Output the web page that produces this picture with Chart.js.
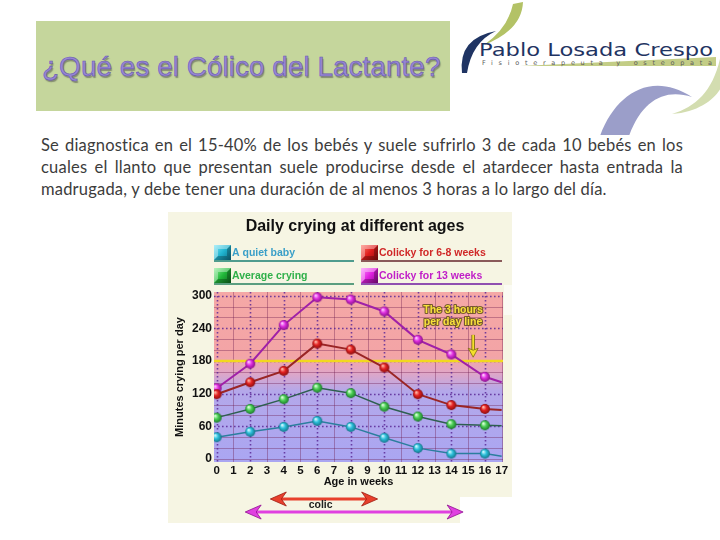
<!DOCTYPE html>
<html><head><meta charset="utf-8">
<script src="https://cdn.jsdelivr.net/npm/chart.js@4.4.1/dist/chart.umd.min.js"></script>
<style>
html,body{margin:0;padding:0;background:#fff;width:720px;height:540px;overflow:hidden;font-family:"Liberation Sans",Arial,sans-serif;}
#titlebox{position:absolute;left:36px;top:21px;width:414px;height:90px;background:#c5d69c;}
#title{position:absolute;left:42px;top:51px;font-size:28px;line-height:32px;color:#9787d4;-webkit-text-stroke:0.6px #6a58b0;text-shadow:1px 1.5px 1px rgba(70,70,70,0.5);white-space:nowrap;}
#para{position:absolute;left:41px;top:134px;width:642px;font-family:Lato,"Open Sans",sans-serif;font-size:16.5px;letter-spacing:0.2px;line-height:22px;color:#3c3c3c;}
.j{text-align:justify;text-align-last:justify;}
#chartwrap{position:absolute;left:168px;top:212px;width:344px;height:311px;}
#logo{position:absolute;left:450px;top:0;}
</style></head>
<body>
<div id="titlebox"></div>
<div id="title">¿Qué es el Cólico del Lactante?</div>
<svg id="logo" width="270" height="135" viewBox="0 0 270 135">
  <path d="M150,136 C165,95 200,70 242,97 C215,88 192,100 179,136 Z" fill="#9b9ec9"/>
  <path d="M272,48 C266,88 248,106 222,114 C250,112 266,98 272,86 Z" fill="#d3ddb0"/>
  <path d="M73,2 Q72,30 34,45 Q58,28 63,4 Z" fill="#b3c266"/>
  <path d="M12,73 Q8,38 46,31 Q22,42 17,73 Z" fill="#1f3463"/>
  <path d="M70,66 L266,57 L266,66 Z" fill="#c3cd86"/>
  <text x="29" y="56" font-family="DejaVu Sans" font-size="17" fill="#1f3463" textLength="234" lengthAdjust="spacingAndGlyphs">Pablo Losada Crespo</text>
  <text x="32" y="65" font-family="DejaVu Sans" font-size="6.5" fill="#5a5a5a" textLength="230" lengthAdjust="spacing">Fisioterapeuta y osteopata</text>
</svg>
<div id="para">
<div class="j">Se diagnostica en el 15-40% de los bebés y suele sufrirlo 3 de cada 10 bebés en los</div>
<div class="j">cuales el llanto que presentan suele producirse desde el atardecer hasta entrada la</div>
<div>madrugada, y debe tener una duración de al menos 3 horas a lo largo del día.</div>
</div>
<div id="chartwrap"><canvas id="c"></canvas></div>
<script>
// ---- data ----
const weeks = [0, 2, 4, 6, 8, 10, 12, 14, 16, 17];
const quietBaby = [40, 50, 59, 70, 59, 39, 20, 10, 10, 5];
const averageCrying = [76, 92, 110, 131, 121, 96, 78, 64, 62, 61];
const colicky6to8 = [119, 141, 162, 212, 201, 168, 119, 99, 92, 90];
const colicky13 = [130, 175, 246, 297, 293, 271, 219, 192, 151, 141];
const seriesNames = ['A quiet baby', 'Average crying', 'Colicky for 6-8 weeks', 'Colicky for 13 weeks'];
const xTicks = [0,1,2,3,4,5,6,7,8,9,10,11,12,13,14,15,16,17];
const yTicks = [0, 60, 120, 180, 240, 300];
const threeHourLine = 180;
const redColicSpan = [3.2, 9.6];
const magentaColicSpan = [1.7, 14.7];

const chartTitle = 'Daily crying at different ages';
const yTitle = 'Minutes crying per day';
const xTitle = 'Age in weeks';
const noteLines = ['The 3 hours', 'per day line'];
const colicLabel = 'colic';

function sphere(base, light, dark, r){
  const c = document.createElement('canvas'); const s = 2*r+2; c.width = s; c.height = s;
  const g = c.getContext('2d'); const cx = s/2, cy = s/2;
  const gr = g.createRadialGradient(cx-r*0.35, cy-r*0.4, r*0.1, cx, cy, r);
  gr.addColorStop(0, light); gr.addColorStop(0.45, base); gr.addColorStop(1, dark);
  g.fillStyle = gr; g.beginPath(); g.arc(cx, cy, r, 0, Math.PI*2); g.fill();
  return c;
}
const styles = {
  quiet: {line:'#2b7e9e', w:1.5, pt:sphere('#2cc0dc','#d0f8ff','#157488',5), text:'#3a9fc8', ul:'#4f9c8e', icon:['#7fe6f6','#20b4d0','#0f6f86']},
  avg:   {line:'#2e5f50', w:1.5, pt:sphere('#4ccf56','#dcffdc','#1b7a2a',5), text:'#2fb04a', ul:'#5a9e80', icon:['#8ff09a','#22b83a','#0d6a1e']},
  red:   {line:'#9a2525', w:2, pt:sphere('#e42222','#ffb8a8','#8a0e0e',5), text:'#d02828', ul:'#8a5a5a', icon:['#ff8070','#e01c1c','#8a0c0c']},
  mag:   {line:'#a020a8', w:2, pt:sphere('#e030e0','#ffc8ff','#8a0e8a',5), text:'#c020c8', ul:'#9050b0', icon:['#ff90ff','#e020e0','#8a0a8a']}
};
const toXY = arr => weeks.map((w,i)=>({x:w, y:arr[i]}));
function ds(label, arr, st){
  return {label, data:toXY(arr), borderColor:st.line, borderWidth:st.w, tension:0,
    pointStyle:st.pt, pointRadius:ctx=>ctx.dataIndex===weeks.length-1?0:5, fill:false};
}

const bgPlugin = {
  id:'bg',
  beforeDraw(chart){
    const {ctx, width, height} = chart;
    ctx.save(); ctx.fillStyle = '#f6f5e3'; ctx.fillRect(0,0,width,height);
    ctx.fillStyle = '#ffffff'; ctx.fillRect(292,285,width-292,height-285);
    ctx.fillStyle = '#fbfbf3'; ctx.fillRect(336,73,width-336,30);
    ctx.restore();
  },
  beforeDatasetsDraw(chart){
    const {ctx, chartArea:a, scales:{x, y}} = chart;
    ctx.save();
    const g = ctx.createLinearGradient(0, a.top, 0, a.bottom);
    const t = v => Math.min(1, Math.max(0, (y.getPixelForValue(v)-a.top)/(a.bottom-a.top)));
    g.addColorStop(0, '#f5a8a6');
    g.addColorStop(t(190), '#f3a4a6');
    g.addColorStop(t(160), '#e2a6c4');
    g.addColorStop(t(125), '#b4a8ea');
    g.addColorStop(1, '#aaa6f2');
    ctx.fillStyle = g; ctx.fillRect(a.left, a.top, a.right-a.left, a.bottom-a.top);
    // minor solid grid
    ctx.lineWidth = 1; ctx.strokeStyle = 'rgba(110,30,80,0.38)';
    ctx.beginPath();
    for (let v = 0; v <= 300; v += 20){ if (v % 60 === 0) continue; const py = Math.round(y.getPixelForValue(v))+0.5; ctx.moveTo(a.left, py); ctx.lineTo(a.right, py); }
    for (const w of xTicks){ if (w % 2 === 0) continue; const px = Math.round(x.getPixelForValue(w))+0.5; ctx.moveTo(px, a.top); ctx.lineTo(px, a.bottom); }
    ctx.stroke();
    // dotted major grid
    ctx.strokeStyle = 'rgba(90,40,150,0.85)'; ctx.lineWidth = 1.6; ctx.setLineDash([1.6,2.4]);
    ctx.beginPath();
    for (const v of yTicks){ if (v===0) continue; const py = Math.round(y.getPixelForValue(v))+0.5; ctx.moveTo(a.left, py); ctx.lineTo(a.right, py); }
    for (const w of xTicks){ if (w % 2 !== 0) continue; const px = Math.round(x.getPixelForValue(w))+0.5; ctx.moveTo(px, a.top); ctx.lineTo(px, a.bottom); }
    ctx.stroke();
    ctx.setLineDash([]);
    ctx.strokeStyle = 'rgba(110,30,80,0.38)'; ctx.lineWidth = 1;
    ctx.beginPath(); const p0 = Math.round(y.getPixelForValue(0))+0.5; ctx.moveTo(a.left,p0); ctx.lineTo(a.right,p0); ctx.stroke();
    // 3 hours line
    const py = y.getPixelForValue(threeHourLine);
    ctx.strokeStyle = '#f2d81e'; ctx.lineWidth = 2.5;
    ctx.beginPath(); ctx.moveTo(a.left, py); ctx.lineTo(a.right, py); ctx.stroke();
    ctx.restore();
  },
  afterDraw(chart){
    const {ctx, scales:{x, y}} = chart;
    ctx.save();
    // title
    ctx.fillStyle = '#111'; ctx.font = 'bold 16px "Liberation Sans", Arial'; ctx.textAlign = 'center'; ctx.textBaseline = 'middle';
    ctx.fillText(chartTitle, 187, 15);
    // legend
    const items = [
      {st:styles.quiet, name:seriesNames[0], x:46, y:41, ulEnd:186},
      {st:styles.avg, name:seriesNames[1], x:46, y:64, ulEnd:186},
      {st:styles.red, name:seriesNames[2], x:193, y:41, ulEnd:334},
      {st:styles.mag, name:seriesNames[3], x:193, y:64, ulEnd:334}
    ];
    for (const it of items){
      const [lt, md, dk] = it.st.icon;
      const ix = it.x, iy = it.y-8, iw = 17, ih = 15;
      const g = ctx.createLinearGradient(ix, iy, ix+iw, iy+ih);
      g.addColorStop(0, lt); g.addColorStop(0.5, md); g.addColorStop(1, dk);
      ctx.fillStyle = g; ctx.fillRect(ix, iy, iw, ih);
      ctx.fillStyle = 'rgba(255,255,255,0.35)';
      ctx.beginPath(); ctx.moveTo(ix,iy); ctx.lineTo(ix+iw,iy); ctx.lineTo(ix+iw-4,iy+4); ctx.lineTo(ix+4,iy+4); ctx.lineTo(ix+4,iy+ih-4); ctx.lineTo(ix,iy+ih); ctx.closePath(); ctx.fill();
      ctx.fillStyle = 'rgba(0,0,0,0.25)';
      ctx.beginPath(); ctx.moveTo(ix+iw,iy); ctx.lineTo(ix+iw,iy+ih); ctx.lineTo(ix,iy+ih); ctx.lineTo(ix+4,iy+ih-4); ctx.lineTo(ix+iw-4,iy+ih-4); ctx.lineTo(ix+iw-4,iy+4); ctx.closePath(); ctx.fill();
      ctx.strokeStyle = it.st.ul; ctx.lineWidth = 2;
      ctx.beginPath(); ctx.moveTo(ix, it.y+8); ctx.lineTo(it.ulEnd, it.y+8); ctx.stroke();
      ctx.fillStyle = it.st.text; ctx.font = 'bold 10.5px "Liberation Sans", Arial'; ctx.textAlign = 'left'; ctx.textBaseline = 'middle';
      ctx.fillText(it.name, ix+iw+1, it.y);
    }
    // note text
    ctx.font = 'bold 10.5px "Liberation Sans", Arial'; ctx.textAlign = 'center'; ctx.textBaseline = 'middle';
    ctx.lineJoin = 'round';
    const nx = x.getPixelForValue(14.1);
    [[noteLines[0], 274], [noteLines[1], 251]].forEach(([s, v])=>{
      const ny = y.getPixelForValue(v);
      ctx.strokeStyle = 'rgba(90,70,20,0.8)'; ctx.lineWidth = 2.2; ctx.strokeText(s, nx, ny);
      ctx.fillStyle = '#f8e23a'; ctx.fillText(s, nx, ny);
    });
    // yellow arrow
    const ax = x.getPixelForValue(15.3), ay1 = y.getPixelForValue(228), ay2 = y.getPixelForValue(187);
    ctx.strokeStyle = '#7a6a10'; ctx.lineWidth = 3.5; ctx.beginPath(); ctx.moveTo(ax, ay1); ctx.lineTo(ax, ay2-6); ctx.stroke();
    ctx.strokeStyle = '#f4e02a'; ctx.lineWidth = 1.8; ctx.beginPath(); ctx.moveTo(ax, ay1); ctx.lineTo(ax, ay2-6); ctx.stroke();
    ctx.fillStyle = '#f4e02a'; ctx.strokeStyle = '#7a6a10'; ctx.lineWidth = 0.8;
    ctx.beginPath(); ctx.moveTo(ax, ay2); ctx.lineTo(ax-5, ay2-9); ctx.lineTo(ax, ay2-7); ctx.lineTo(ax+5, ay2-9); ctx.closePath(); ctx.fill(); ctx.stroke();
    // colic arrows
    function dbl(w1, w2, py, col, dark){
      const x1 = x.getPixelForValue(w1), x2 = x.getPixelForValue(w2);
      ctx.strokeStyle = col; ctx.lineWidth = 3;
      ctx.beginPath(); ctx.moveTo(x1+10, py); ctx.lineTo(x2-10, py); ctx.stroke();
      ctx.fillStyle = col; ctx.strokeStyle = dark; ctx.lineWidth = 0.8;
      ctx.beginPath(); ctx.moveTo(x1, py); ctx.lineTo(x1+16, py-7); ctx.lineTo(x1+11, py); ctx.lineTo(x1+16, py+7); ctx.closePath(); ctx.fill(); ctx.stroke();
      ctx.beginPath(); ctx.moveTo(x2, py); ctx.lineTo(x2-16, py-7); ctx.lineTo(x2-11, py); ctx.lineTo(x2-16, py+7); ctx.closePath(); ctx.fill(); ctx.stroke();
    }
    dbl(redColicSpan[0], redColicSpan[1], 287, '#e8402c', '#a01a10');
    dbl(magentaColicSpan[0], magentaColicSpan[1], 300, '#e040e0', '#901090');
    ctx.fillStyle = '#222'; ctx.font = 'bold 10.5px "Liberation Sans", Arial'; ctx.textAlign = 'center'; ctx.textBaseline = 'middle';
    ctx.fillText(colicLabel, x.getPixelForValue(6.2), 293);
    ctx.restore();
  }
};

new Chart(document.getElementById('c'), {
  type:'line',
  data:{datasets:[
    ds(seriesNames[0], quietBaby, styles.quiet),
    ds(seriesNames[1], averageCrying, styles.avg),
    ds(seriesNames[2], colicky6to8, styles.red),
    ds(seriesNames[3], colicky13, styles.mag)
  ]},
  options:{
    responsive:true, maintainAspectRatio:false, animation:false, events:[],
    layout:{padding:{top:80, right:9, bottom:34, left:0}},
    plugins:{legend:{display:false}, title:{display:false}, tooltip:{enabled:false}},
    scales:{
      x:{type:'linear', min:-0.16, max:17.08,
        afterBuildTicks:s=>{s.ticks = xTicks.map(v=>({value:v}));},
        afterFit:s=>{s.height = 27;},
        grid:{display:false, drawTicks:false}, border:{display:false},
        ticks:{autoSkip:false, maxRotation:0, padding:2, color:'#111', font:{family:'"Liberation Sans", Arial', weight:'bold', size:11.5}},
        title:{display:true, text:xTitle, color:'#111', padding:{top:0,bottom:0}, font:{family:'"Liberation Sans", Arial', weight:'bold', size:11}}
      },
      y:{type:'linear', min:-5.5, max:306.8,
        afterBuildTicks:s=>{s.ticks = yTicks.map(v=>({value:v}));},
        afterFit:s=>{s.width = 46;},
        grid:{display:false, drawTicks:false}, border:{display:false},
        ticks:{padding:2, color:'#111', font:{family:'"Liberation Sans", Arial', weight:'bold', size:12}},
        title:{display:true, text:yTitle, color:'#111', padding:{top:5,bottom:0}, font:{family:'"Liberation Sans", Arial', weight:'bold', size:11}}
      }
    }
  },
  plugins:[bgPlugin]
});
</script>
</body></html>
